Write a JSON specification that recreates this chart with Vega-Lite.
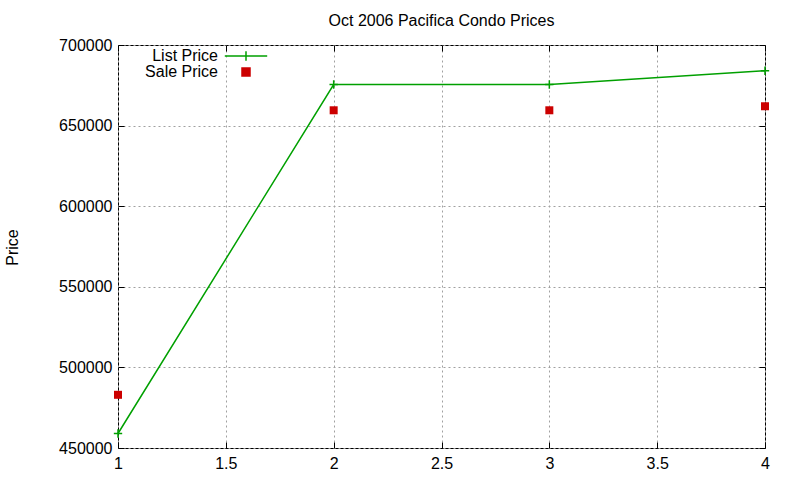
{
  "$schema": "https://vega.github.io/schema/vega-lite/v6.json",
  "autosize": "none",
  "width": 647,
  "height": 403,
  "padding": {"left": 118, "top": 45, "right": 35, "bottom": 32},
  "background": "white",
  "title": {"text": "Oct 2006 Pacifica Condo Prices", "fontSize": 16, "fontWeight": "normal", "font": "Liberation Sans", "color": "black", "offset": 8},
  "config": {
    "view": {"stroke": "black", "strokeWidth": 1},
    "font": "Liberation Sans",
    "axis": {
      "labelFont": "Liberation Sans", "labelFontSize": 16, "labelColor": "black",
      "domain": false, "tickColor": "black", "tickSize": -6,
      "gridColor": "#a0a0a0", "gridDash": [2, 3], "gridWidth": 1,
      "titleFont": "Liberation Sans", "titleFontSize": 16, "titleFontWeight": "normal", "titleColor": "black"
    }
  },
  "data": {"values": [
    {"x": 1, "price": 459000, "series": "List Price"},
    {"x": 2, "price": 675500, "series": "List Price"},
    {"x": 3, "price": 675500, "series": "List Price"},
    {"x": 4, "price": 684000, "series": "List Price"},
    {"x": 1, "price": 483000, "series": "Sale Price"},
    {"x": 2, "price": 659500, "series": "Sale Price"},
    {"x": 3, "price": 659500, "series": "Sale Price"},
    {"x": 4, "price": 662000, "series": "Sale Price"}
  ]},
  "resolve": {"axis": {"x": "independent", "y": "independent"}},
  "layer": [
    {
      "transform": [{"filter": "datum.series === 'List Price'"}],
      "mark": {"type": "line", "color": "#00a000", "strokeWidth": 1.5},
      "encoding": {
        "x": {"field": "x", "type": "quantitative", "scale": {"domain": [1, 4], "nice": false, "zero": false},
          "axis": {"values": [1, 1.5, 2, 2.5, 3, 3.5, 4], "format": "~g", "title": null, "labelPadding": 13, "labelFlush": false}},
        "y": {"field": "price", "type": "quantitative", "scale": {"domain": [450000, 700000], "nice": false, "zero": false},
          "axis": {"values": [450000, 500000, 550000, 600000, 650000, 700000], "format": "d", "title": "Price", "labelPadding": 12, "labelFlush": false,
            "titleX": -106, "titleY": 202, "titleAngle": -90, "titleAlign": "center", "titleBaseline": "middle"}}
      }
    },
    {
      "transform": [{"filter": "datum.series === 'List Price'"}],
      "mark": {"type": "point", "shape": "M-1,0H1M0,-1V1", "size": 70, "filled": false, "strokeWidth": 1.5, "opacity": 1, "color": "#00a000"},
      "encoding": {
        "x": {"field": "x", "type": "quantitative", "axis": null},
        "y": {"field": "price", "type": "quantitative", "axis": null}
      }
    },
    {
      "transform": [{"filter": "datum.series === 'Sale Price'"}],
      "mark": {"type": "point", "shape": "square", "size": 64, "filled": true, "opacity": 1, "color": "#cc0000"},
      "encoding": {
        "x": {"field": "x", "type": "quantitative",
          "axis": {"orient": "top", "values": [1, 1.5, 2, 2.5, 3, 3.5, 4], "labels": false, "grid": false, "title": null}},
        "y": {"field": "price", "type": "quantitative",
          "axis": {"orient": "right", "values": [450000, 500000, 550000, 600000, 650000, 700000], "labels": false, "grid": false, "title": null}}
      }
    },
    {
      "transform": [{"filter": "false"}],
      "mark": {"type": "point", "filled": true, "strokeWidth": 1.5, "opacity": 1},
      "encoding": {
        "x": {"field": "x", "type": "quantitative", "axis": null},
        "y": {"field": "price", "type": "quantitative", "axis": null},
        "color": {"field": "series", "type": "nominal",
          "scale": {"domain": ["List Price", "Sale Price"], "range": ["#00a000", "#cc0000"]},
          "legend": {"title": null, "orient": "none", "legendX": 120, "legendY": 3, "labelFontSize": 16, "labelFont": "Liberation Sans", "labelColor": "black",
            "rowPadding": 0, "symbolSize": 64, "symbolStrokeWidth": 1.5, "labelAlign": "right", "labelOffset": -36}},
        "stroke": {"field": "series", "type": "nominal",
          "scale": {"domain": ["List Price", "Sale Price"], "range": ["#00a000", "#cc0000"]}},
        "shape": {"field": "series", "type": "nominal",
          "scale": {"domain": ["List Price", "Sale Price"], "range": ["M-5.3,0H5.3M0,-1.2V1.2", "square"]}}
      }
    }
  ]
}
